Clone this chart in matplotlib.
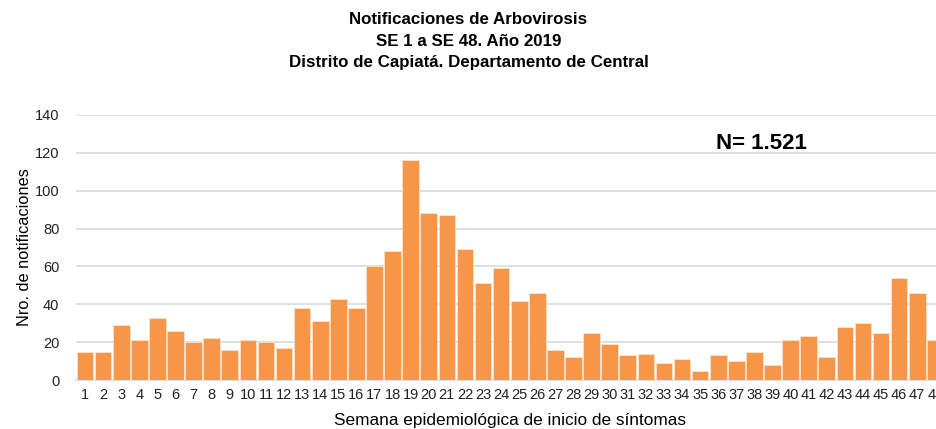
import matplotlib.pyplot as plt

weeks = list(range(1, 49))
cases = [15, 15, 29, 21, 33, 26, 20, 22, 16, 21, 20, 17,
         38, 31, 43, 38, 60, 68, 116, 88, 87, 69, 51, 59,
         42, 46, 16, 12, 25, 19, 13, 14, 9, 11, 5, 13,
         10, 15, 8, 21, 23, 12, 28, 30, 25, 54, 46, 21]
yticks = [0, 20, 40, 60, 80, 100, 120, 140]

plt.rcParams['font.family'] = ['Liberation Sans', 'DejaVu Sans']

fig = plt.figure(figsize=(9.37, 4.29), dpi=100)
step = 18.09 / 937
left = 76 / 937
ax = fig.add_axes([left, 1 - 380 / 429, 48 * step, 265 / 429])

ax.bar(weeks, cases, width=0.92, color='#F79646', edgecolor='#FCE3CF', linewidth=0.6, zorder=3)
ax.set_xlim(0.5, 48.5)
ax.set_ylim(0, 140)
ax.set_yticks(yticks)
ax.set_xticks(weeks)
ax.tick_params(axis='both', length=0, labelsize=10.5, colors='#222222')
ax.tick_params(axis='x', pad=6)
ax.tick_params(axis='y', pad=12)
ax.grid(axis='y', color='#D9D9D9', linewidth=1.2, zorder=0)
for s in ['top', 'right', 'left']:
    ax.spines[s].set_visible(False)
ax.spines['bottom'].set_color('#D9D9D9')
ax.spines['bottom'].set_linewidth(1.2)

ax.set_ylabel('Nro. de notificaciones', fontsize=11.8, labelpad=2)
fig.text(left + 24 * step, 1 - 421 / 429, 'Semana epidemiológica de inicio de síntomas',
         ha='center', va='center', fontsize=12.4)

ax.text(38.4, 125, 'N= 1.521', fontsize=16, fontweight='bold', ha='center', va='center')

title = ['Notificaciones de Arbovirosis', 'SE 1 a SE 48. Año 2019',
         'Distrito de Capiatá. Departamento de Central']
for i, t in enumerate(title):
    fig.text(0.5, 1 - (20 + i * 21.5) / 429, t, ha='center', va='center',
             fontsize=12.2, fontweight='bold')

fig.savefig('out.png', dpi=100)
